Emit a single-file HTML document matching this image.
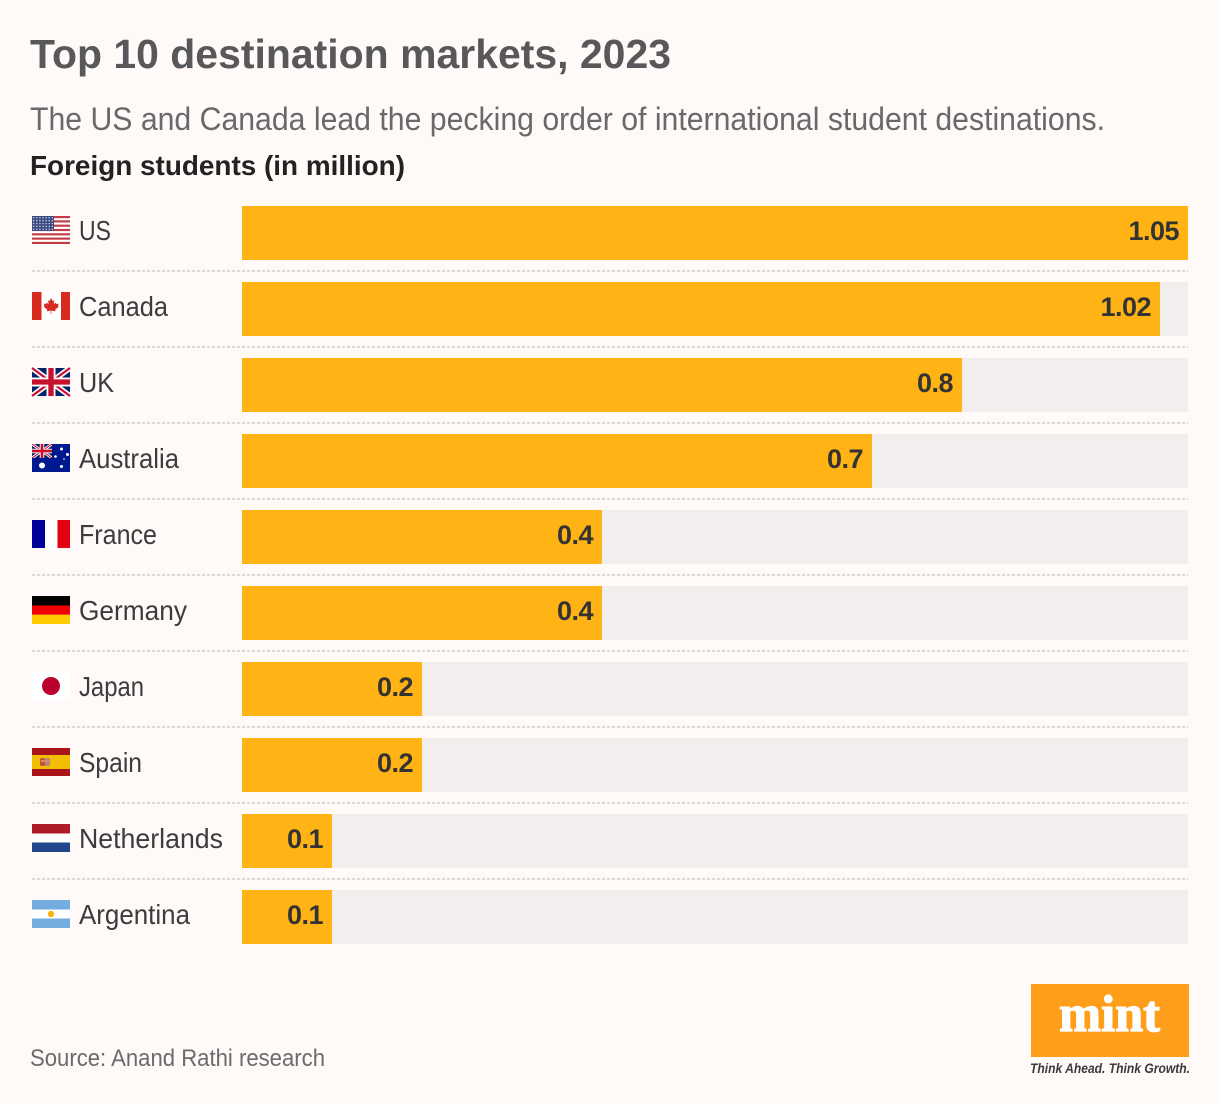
<!DOCTYPE html>
<html lang="en">
<head>
<meta charset="utf-8">
<title>Top 10 destination markets, 2023</title>
<style>
  html, body { margin: 0; padding: 0; background: #FFF9F8; }
  body { width: 1220px; height: 1104px; overflow: hidden; }
  svg { display: block; }
  text { font-family: "Liberation Sans", sans-serif; }
</style>
</head>
<body>
<svg id="chart" xmlns="http://www.w3.org/2000/svg" width="1220" height="1104" viewBox="0 0 1220 1104">
  <rect x="0" y="0" width="1220" height="1104" fill="#FFF9F8"/>
  <text x="30" y="68" font-size="41" font-weight="700" fill="#58585A" textLength="641" lengthAdjust="spacingAndGlyphs">Top 10 destination markets, 2023</text>
  <text x="30" y="130" font-size="32" fill="#69696B" textLength="1075" lengthAdjust="spacingAndGlyphs">The US and Canada lead the pecking order of international student destinations.</text>
  <text x="30" y="175" font-size="28" font-weight="700" fill="#222222" textLength="375" lengthAdjust="spacingAndGlyphs">Foreign students (in million)</text>
  <g id="rows"></g>
  <text x="30" y="1066" font-size="24" fill="#6B6B6D" textLength="295" lengthAdjust="spacingAndGlyphs">Source: Anand Rathi research</text>
  <g>
    <rect x="1031" y="984" width="158" height="73" fill="#FF9E1B"/>
    <text x="1059" y="1031" font-size="52" font-weight="700" fill="#FFFFFF" stroke="#FFFFFF" stroke-width="1.2" style="font-family:'Liberation Serif',serif" textLength="101" lengthAdjust="spacingAndGlyphs">mint</text>
    <text x="1030" y="1073" font-size="13.5" font-weight="700" font-style="italic" fill="#3A3A3C" textLength="160" lengthAdjust="spacingAndGlyphs">Think Ahead. Think Growth.</text>
  </g>
</svg>
<script>
const countries = ["US", "Canada", "UK", "Australia", "France", "Germany", "Japan", "Spain", "Netherlands", "Argentina"];
const students = [1.05, 1.02, 0.8, 0.7, 0.4, 0.4, 0.2, 0.2, 0.1, 0.1];
const valueLabels = ["1.05", "1.02", "0.8", "0.7", "0.4", "0.4", "0.2", "0.2", "0.1", "0.1"];
const domainMax = 1.05;

const NS = "http://www.w3.org/2000/svg";
const plotLeft = 242, plotWidth = 946, firstTop = 206, rowStep = 76, barHeight = 54;
const xScale = v => Math.floor(v / domainMax * plotWidth);
const yScale = i => firstTop + i * rowStep;
const labelFit = { "US": 32, "Canada": 89, "UK": 35, "Australia": 100, "France": 78, "Germany": 108, "Japan": 65, "Spain": 63, "Netherlands": 144, "Argentina": 111 };

function unionJack(w, h) {
  return '<rect width="' + w + '" height="' + h + '" fill="#012169"/>' +
    '<path d="M0 0L' + w + ' ' + h + 'M' + w + ' 0L0 ' + h + '" stroke="#fff" stroke-width="' + h * 0.2 + '"/>' +
    '<path d="M0 0L' + w + ' ' + h + 'M' + w + ' 0L0 ' + h + '" stroke="#C8102E" stroke-width="' + h * 0.08 + '"/>' +
    '<path d="M' + w / 2 + ' 0V' + h + 'M0 ' + h / 2 + 'H' + w + '" stroke="#fff" stroke-width="' + h * 0.32 + '"/>' +
    '<path d="M' + w / 2 + ' 0V' + h + 'M0 ' + h / 2 + 'H' + w + '" stroke="#C8102E" stroke-width="' + h * 0.19 + '"/>';
}
function usFlag() {
  let s = '<rect width="38" height="28" fill="#fff"/>';
  for (let i = 0; i < 7; i++) s += '<rect y="' + i * 4.31 + '" width="38" height="2.15" fill="#C23B45"/>';
  s += '<rect width="22" height="15" fill="#3B4A80"/>';
  for (let r = 0; r < 5; r++) for (let c = 0; c < 7; c++)
    s += '<circle cx="' + (1.7 + c * 3.1) + '" cy="' + (1.7 + r * 2.9) + '" r="0.75" fill="#C9CEE0"/>';
  return s;
}
const flagArt = {
  "US": usFlag(),
  "Canada": '<rect width="38" height="28" fill="#fff"/><rect width="9.5" height="28" fill="#D82B1F"/><rect x="29" width="9" height="28" fill="#D82B1F"/>' +
    '<path d="M19 6l1.7 3 1.6-.8-.6 4 2-1.6.6 1.4 2.4-.4-.8 2.4 1 .6-3.8 3.2.4 1.4-3.8-.5h-1l-3.8.5.4-1.4-3.8-3.2 1-.6-.8-2.4 2.4.4.6-1.4 2 1.6-.6-4 1.6.8z" fill="#D82B1F"/><rect x="18.4" y="18" width="1.2" height="4" fill="#E98A80"/>',
  "UK": unionJack(38, 28),
  "Australia": '<rect width="38" height="28" fill="#00188F"/><svg width="20" height="14" viewBox="0 0 20 14">' + unionJack(20, 14) + '</svg>' +
    '<circle cx="10" cy="21.5" r="3" fill="#fff"/><circle cx="29.5" cy="5" r="1.5" fill="#fff"/><circle cx="35.5" cy="10.5" r="1.5" fill="#fff"/><circle cx="23.5" cy="12.5" r="1.3" fill="#fff"/><circle cx="32" cy="15" r="0.8" fill="#fff"/><circle cx="29.5" cy="22.5" r="1.5" fill="#fff"/>',
  "France": '<rect width="13" height="28" fill="#00009A"/><rect x="13" width="12.5" height="28" fill="#fff"/><rect x="25.5" width="12.5" height="28" fill="#E30013"/>',
  "Germany": '<rect width="38" height="9.5" fill="#000"/><rect y="9.5" width="38" height="9.3" fill="#F00000"/><rect y="18.8" width="38" height="9.2" fill="#FFCC00"/>',
  "Japan": '<rect width="38" height="28" fill="#fff"/><circle cx="19" cy="14" r="9" fill="#BC002D"/>',
  "Spain": '<rect width="38" height="28" fill="#AA151B"/><rect y="7" width="38" height="14" fill="#F1BF00"/><rect x="8" y="10" width="5" height="8" rx="1.5" fill="#C8513A"/><rect x="13" y="10" width="5" height="8" rx="1.5" fill="#B08A78"/><rect x="9" y="12" width="8" height="2" fill="#D98A6A"/>',
  "Netherlands": '<rect width="38" height="9.5" fill="#AE1C28"/><rect y="9.5" width="38" height="9" fill="#fff"/><rect y="18.5" width="38" height="9.5" fill="#21468B"/>',
  "Argentina": '<rect width="38" height="28" fill="#74ACDF"/><rect y="9.5" width="38" height="9" fill="#fff"/><circle cx="19" cy="14" r="3.2" fill="#F6B40E"/>'
};

const rowsGroup = document.getElementById("rows");
function make(tag, attrs, parent) {
  const el = document.createElementNS(NS, tag);
  for (const k in attrs) el.setAttribute(k, attrs[k]);
  parent.appendChild(el);
  return el;
}

countries.forEach((name, i) => {
  const top = yScale(i);
  const slug = name.toLowerCase();

  const row = make("g", {}, rowsGroup);
  
  

  const flag = make("g", { transform: "translate(32 " + (top + 10) + ")" }, row);
  
  
  flag.innerHTML = flagArt[name];

  const label = make("text", { x: 79, y: top + 34, "font-size": 28, fill: "#3C3C3E", textLength: labelFit[name], lengthAdjust: "spacingAndGlyphs" }, row);
  
  
  label.textContent = name;

  const track = make("rect", { x: plotLeft, y: top, width: plotWidth, height: barHeight, fill: "#F3EEEE" }, row);
  
  

  const w = xScale(students[i]);
  const bar = make("rect", { x: plotLeft, y: top, width: w, height: barHeight, fill: "#FFB314" }, row);
  
  

  const value = make("text", { x: plotLeft + w - 9, y: top + 34, "font-size": 27, "font-weight": 700, fill: "#333333", "text-anchor": "end", "letter-spacing": "-0.5" }, row);
  
  
  value.textContent = valueLabels[i];

  if (i < countries.length - 1) {
    const sep = make("line", { x1: 32, x2: 1188, y1: top + 65, y2: top + 65, stroke: "#DCD8D7", "stroke-width": 2, "stroke-dasharray": "3 2" }, row);
    
    
  }
});
</script>
</body>
</html>
